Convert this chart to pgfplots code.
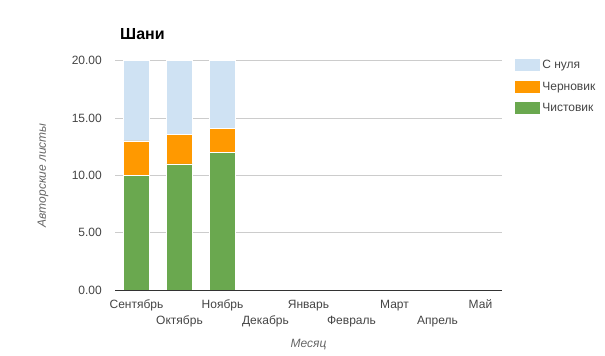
\documentclass[border=0pt]{standalone}
\usepackage{pgfplots}
\pgfplotsset{compat=1.18}
\usepackage{fontspec}
\setmainfont{Liberation Sans}
\definecolor{cgreen}{HTML}{6AA84F}
\definecolor{corange}{HTML}{FF9900}
\definecolor{cblue}{HTML}{CFE2F3}
\definecolor{ctick}{HTML}{444444}
\definecolor{cttl}{HTML}{666666}
\definecolor{cgrid}{HTML}{CCCCCC}
\begin{document}
\fontsize{12bp}{14bp}\selectfont
\begin{tikzpicture}
\path[use as bounding box] (0,0) rectangle (605bp,356bp);
\begin{axis}[
  at={(115bp,66bp)}, anchor=south west,
  scale only axis, width=387bp, height=229.3bp,
  ybar stacked, bar width=26bp,
  xmin=-0.5, xmax=8.5, ymin=0, ymax=20,
  xtick={0,...,8},
  xticklabels={{\strut Сентябрь},{\strut\\\strut Октябрь},{\strut Ноябрь},{\strut\\\strut Декабрь},{\strut Январь},{\strut\\\strut Февраль},{\strut Март},{\strut\\\strut Апрель},{\strut Май}},
  xticklabel style={align=center, anchor=north, yshift=-3bp, text=ctick, font=\fontsize{12bp}{16bp}\selectfont},
  ytick={0,5,10,15,20},
  yticklabel style={anchor=east, xshift=-9bp, text=ctick, font=\fontsize{12bp}{14bp}\selectfont},
  /pgf/number format/assume math mode=true,
  /pgf/number format/.cd, fixed, fixed zerofill, precision=2, /pgfplots/.cd,
  major tick length=0pt,
  ymajorgrids=true, xmajorgrids=false,
  major grid style={draw=cgrid, line width=0.6bp},
  axis x line*=bottom, axis y line*=left,
  y axis line style={draw=none},
  x axis line style={draw=black!80, line width=0.8bp, -},
  title={\bfseries Шани},
  title style={at={(0,1)}, anchor=base west, xshift=1bp, yshift=15bp, font=\fontsize{16bp}{18bp}\selectfont},
  xlabel={Месяц},
  xlabel style={at={(axis description cs:0.5,-0.24)}, anchor=center, text=cttl, font=\itshape\fontsize{12bp}{14bp}\selectfont},
  ylabel={Авторские листы},
  ylabel style={at={(axis description cs:-0.186,0.5)}, anchor=center, text=cttl, font=\itshape\fontsize{12bp}{14bp}\selectfont},
  legend style={at={(1.034,1.012)}, anchor=north west, draw=none, fill=none, inner sep=0pt,
    row sep=7.5bp, font=\fontsize{12bp}{14bp}\selectfont, text=ctick, cells={anchor=west}},
  legend image code/.code={\fill[#1, draw=none] (0bp,-6bp) rectangle (25bp,6bp);},
  reverse legend,
]
\addplot+[fill=cgreen, draw=white, line width=0.7bp] coordinates {(0,10) (1,11) (2,12)};
\addplot+[fill=corange, draw=white, line width=0.7bp] coordinates {(0,3) (1,2.6) (2,2.1)};
\addplot+[fill=cblue, draw=white, line width=0.7bp] coordinates {(0,7) (1,6.4) (2,5.9)};
\legend{Чистовик, Черновик, С нуля}
\end{axis}
\end{tikzpicture}
\end{document}
